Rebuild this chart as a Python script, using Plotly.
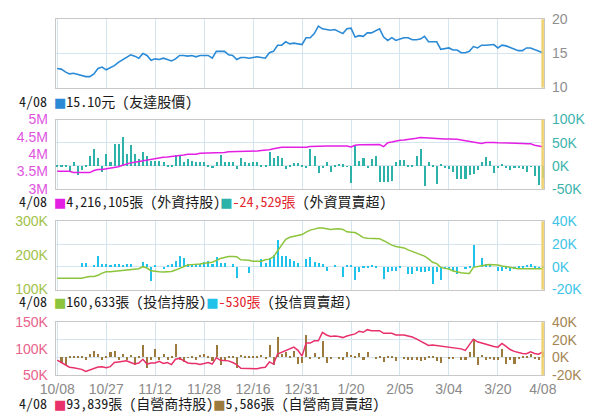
import plotly.graph_objects as go

# ---------------- data ----------------
tick_labels = ["10/08", "10/27", "11/12", "11/28", "12/16", "12/31",
               "1/20", "2/05", "3/04", "3/20", "4/08"]
tick_index = [0, 12, 24, 36, 48, 60, 72, 84, 96, 108, 119]

# 友達股價 (元)
price = [12.8, 12.7, 12.3, 12.0, 12.1, 11.9, 11.7, 11.6, 11.6, 12.0,
         12.8, 13.0, 12.6, 12.9, 13.2, 13.7, 14.1, 14.4, 14.8, 14.6,
         14.3, 15.0, 14.7, 14.0, 14.2, 14.1, 14.3, 14.1, 13.9, 14.2,
         14.7, 14.7, 14.6, 14.7, 14.5, 14.7, 14.7, 14.7, 14.3, 15.3,
         15.3, 15.3, 14.8, 14.7, 14.1, 14.4, 14.4, 14.3, 14.4, 14.5,
         14.4, 14.3, 15.1, 15.3, 16.2, 16.2, 16.7, 16.4, 16.5, 16.4,
         16.3, 17.3, 17.3, 17.9, 19.0, 18.6, 18.5, 18.4, 18.5, 18.2,
         17.9, 18.6, 18.7, 17.4, 17.6, 17.5, 18.0, 18.0, 18.3, 18.6,
         17.4, 16.9, 17.3, 16.9, 17.1, 17.3, 17.3, 17.0, 17.0, 17.1,
         17.5, 16.7, 16.7, 16.7, 15.6, 15.7, 15.8, 15.5, 15.5, 15.1,
         15.1, 15.3, 16.0, 15.8, 16.2, 16.2, 16.2, 16.3, 15.8, 16.2,
         16.1, 15.9, 15.7, 15.4, 15.4, 15.8, 15.8, 15.6, 15.4, 15.10]

# 外資持股 (千張)
foreign_hold = [3510, 3510, 3510, 3510, 3470, 3470, 3470, 3470, 3470, 3530,
                3560, 3560, 3580, 3580, 3600, 3640, 3680, 3720, 3750, 3770,
                3790, 3810, 3830, 3860, 3890, 3900, 3910, 3920, 3930, 3950,
                3970, 3980, 4000, 4000, 4000, 4030, 4030, 4030, 4050, 4050,
                4050, 4050, 4070, 4070, 4070, 4070, 4090, 4090, 4090, 4090,
                4110, 4110, 4130, 4160, 4190, 4200, 4200, 4200, 4200, 4200,
                4180, 4200, 4220, 4230, 4240, 4240, 4240, 4240, 4240, 4240,
                4240, 4240, 4210, 4260, 4270, 4270, 4270, 4270, 4290, 4280,
                4220, 4330, 4350, 4380, 4400, 4410, 4420, 4440, 4460, 4480,
                4470, 4460, 4450, 4450, 4450, 4440, 4440, 4440, 4430, 4410,
                4390, 4370, 4350, 4340, 4310, 4340, 4350, 4340, 4330, 4330,
                4330, 4330, 4330, 4330, 4310, 4300, 4300, 4260, 4240, 4216.105]

# 外資買賣超 (千張)
foreign_net = [3, 0.5, 3, -12, 9, -20, -8, 0.5, 21, 37,
               17, -13, 26, 8, 49, 49, 64, 26, 45, 26,
               16, 30, 23, 12, 12, 12, 10, 0.5, 2, 24,
               24, 9, 15, 12, 9, 8, 9, 3, -3, 9,
               24, 8, 8, 9, -7, 17, 9, 6, 8, 10,
               0.5, 0.5, 30, 17, 22, 17, -7, 3, 6, 6,
               2, -3, 37, 23, -15, -5, 10, -13, 2, 5.5,
               4, -1, -37, 45, 11, 17, -3, 15, 22, -34,
               -34, -34, -33, 9, 14, 14, 2, 3.5, 23, 37,
               -43, 9, 3.5, -38, 5.5, -3.5, -7, -12, -27, -28,
               -28, -19, -17, -8, 10, 19, 12, -15, -3.5, 5.5,
               -5, -8, -3.5, -3.5, -7, -12, -1.5, -22, -40, -24.529]

# 投信持股 (千張)
trust_hold = [133, 133, 133, 133, 133, 133, 133, 136, 138.5, 138.5,
              142, 148, 152, 152, 153, 154.5, 156, 157.5, 159, 160,
              161, 167, 163, 155, 153, 152, 151.6, 151.6, 153, 157,
              162, 168.5, 172, 173, 173.5, 175, 177, 179, 180, 185.5,
              191, 194, 196.7, 196.7, 196, 187, 187, 186, 183, 182.6,
              183, 187, 189, 196, 212, 228, 247, 253, 256, 258,
              261, 268, 274, 277, 280, 280, 277, 276, 277, 278,
              276, 269, 268, 267, 260, 252, 250, 250, 250, 249,
              243, 236, 230, 226, 223, 222, 216, 211, 207, 203,
              198, 190, 180, 176, 165, 162, 160, 154.5, 151, 149,
              148, 147, 165, 168, 170, 172, 173, 173, 172, 169,
              167, 165, 162, 161, 161, 161, 162, 162, 161, 160.633]

# 投信買賣超 (千張)
trust_net = [0, 0, 0, 0, 0, 0, 3.4, 3.4, 0, 1,
             9.6, 2.5, 2, 1, 2.5, 2.5, 1, 2.5, 2.5, 0,
             0, 4, 2, -13, 0.5, 0, -2.3, 1, 2, 4.8,
             9.6, 7.6, 2, 1, 1, 2, 4, 4.8, 2, 8.5,
             2.8, 2.8, 0, 2, -10, 0, 0, -5.6, 0, 0,
             6.2, 3.4, 7.6, 10.4, 23, 9.6, 9.6, 6.2, 4.5, 3.4,
             0, 6.2, 8.5, 4, 2.8, 2.2, -3.7, 0, 1, 0,
             -9.3, 1, 1, -12, -5, -1.7, -1.2, 1, -1.2, 0,
             -10.7, -5, -3.7, -3.7, -1.7, 0, -6.5, -6.5, -3.7, -5,
             -5, -3.7, -15, -4.5, -12, -2.3, -2.3, -3.7, -6.5, 0,
             -2.3, -1.7, 19, 0, 7.6, 2, 1, 0, -3.7, -3.7,
             -2.3, -3.7, -2.3, -1.7, -1.7, 1, 2.5, -1.7, -2.3, -0.53]

# 自營商持股 (千張)
dealer_hold = [78.5, 74, 68, 65, 64, 63, 61, 57, 60, 63,
               65.5, 66, 64, 66, 74, 75, 76, 77, 74, 71,
               73, 80, 71, 73, 73, 76, 72, 74, 70, 80,
               82, 77, 73, 72, 72, 70, 72, 74, 71, 83,
               78, 77, 77, 74, 70, 63, 63, 63, 63, 62,
               64, 65, 75, 71, 90, 93, 97, 99, 103, 97,
               86, 110.6, 110.6, 115, 115, 131, 126, 123, 124, 123,
               121, 124, 126, 128, 133, 131, 136, 134, 134, 134,
               129, 129, 129, 126, 126, 126, 124, 122, 118.5, 114,
               111, 106, 107, 106, 104.5, 103.5, 102.5, 101.5, 100.5, 99.7,
               96.7, 107, 118, 113, 110.6, 108, 106, 104, 103, 110,
               104.5, 98.5, 95, 93, 91, 90.6, 94, 91, 89.5, 93.839]

# 自營商買賣超 (千張)
dealer_net = [0, -6.5, -9, 0.7, 0.5, 0.7, 0.5, -3.6, 3.6, 7.3,
              3.6, -3, 0.7, 6.2, 7.3, -3, 3.6, -3.6, 2.9, -9,
              1.8, 13.8, -12, -3.6, 9, -3, 3.6, -3.6, 0.7, 14.5,
              -3.6, -5.5, 0.3, 0.7, -3, 2.5, 3.6, 1.8, -4.4, 13.8,
              -8.4, -3, 0.7, 0.7, -12.7, 2.5, 0.7, 0.7, 1.8, 0.7,
              2.5, -1.8, 13.8, -8.4, 22.5, 3.6, 6.2, 1.8, 7.3, -7.3,
              -6.5, 24.7, -1.8, 4.4, -1, 18, -6.5, -1, 0, -1.8,
              -3.6, 5.5, 2.5, 1.8, 4.4, -3.6, 6.2, 0, -1.8, 0.7,
              -5.5, 0.7, 0.7, -4.4, 0, -1.8, -3, -3.6, -3, -4.4,
              -3.6, 1.8, 1.8, -4.4, -6.5, 0, -1.8, -1.8, 0, -3,
              -3.6, 5.5, 21, -9, 2.5, -3, -1.5, -3, -3, 9.8,
              -7.3, -3, -7.3, -1.8, 0.7, 0.7, 3.6, -1.8, -3.6, 5.586]

# ---------------- figure ----------------
n = len(price)
x = list(range(n))
last = tick_labels[-1]

FONT = "Liberation Sans, Noto Sans CJK TC, sans-serif"
LEG_FONT = "Noto Sans Mono CJK TC, Noto Sans CJK TC, monospace"
W, H = 602, 420
GRID = "#d5e5ef"
BORDER = "#c8c8c8"
CURSOR = "#f2cf63"

C_PRICE = "#2a8ad6"
C_FH, C_FH_T = "#e41fe4", "#e055e0"
C_FN, C_FN_T = "#2db2a9", "#3db3ad"
C_TH, C_TH_T = "#8cc43c", "#a2c24a"
C_TN, C_TN_T = "#1fc3ea", "#3ec4e6"
C_DH, C_DH_T = "#e8306a", "#e8628c"
C_DN, C_DN_T = "#9c7a3e", "#a58553"
RED = "#e3262f"

k = lambda arr: [v * 1000 for v in arr]

fig = go.Figure()
fig.add_trace(go.Scatter(x=x, y=price, mode="lines",
                         line=dict(color=C_PRICE, width=1.6), xaxis="x", yaxis="y"))
fig.add_trace(go.Bar(x=x, y=k(foreign_net), marker=dict(color=C_FN, line=dict(width=0)),
                     width=0.5, xaxis="x2", yaxis="y2"))
fig.add_trace(go.Scatter(x=x, y=k(foreign_hold), mode="lines",
                         line=dict(color=C_FH, width=1.5), xaxis="x2", yaxis="y3"))
fig.add_trace(go.Bar(x=x, y=k(trust_net), marker=dict(color=C_TN, line=dict(width=0)),
                     width=0.5, xaxis="x3", yaxis="y4"))
fig.add_trace(go.Scatter(x=x, y=k(trust_hold), mode="lines",
                         line=dict(color=C_TH, width=1.5), xaxis="x3", yaxis="y5"))
fig.add_trace(go.Bar(x=x, y=k(dealer_net), marker=dict(color=C_DN, line=dict(width=0)),
                     width=0.5, xaxis="x4", yaxis="y6"))
fig.add_trace(go.Scatter(x=x, y=k(dealer_hold), mode="lines",
                         line=dict(color=C_DH, width=1.5), xaxis="x4", yaxis="y7"))

xdom = [41.7 / W, 554 / W]
def ydom(top, bottom):
    return [1 - bottom / H, 1 - top / H]

d1 = ydom(11.7, 82.7)
d2 = ydom(116, 188)
d3 = ydom(221.7, 292.7)
d4 = ydom(326.7, 381.7)

def xax(anchor, labels=False):
    return dict(domain=xdom, anchor=anchor, range=[-0.35, n - 1 + 0.35],
                tickvals=tick_index, ticktext=tick_labels, showticklabels=labels,
                showgrid=True, gridcolor=GRID, gridwidth=1, zeroline=False,
                showline=True, mirror=True, linecolor=BORDER, linewidth=1,
                ticks="outside" if labels else "", ticklen=1, tickcolor="rgba(0,0,0,0)",
                tickfont=dict(family=FONT, size=14, color="#8a8a8a"))

def kfmt(vals):
    return ["%dK" % (v // 1000) if v != 0 else "0K" for v in vals]

def yax(dom, anchor, side, rng, vals, text, color, grid, overlay=None):
    d = dict(anchor=anchor, side=side, range=rng, tickvals=vals, ticktext=text,
             showgrid=grid, gridcolor=GRID, gridwidth=1, zeroline=False,
             ticks="outside", ticklen=4, tickcolor="rgba(0,0,0,0)",
             tickfont=dict(family=FONT, size=14, color=color),
             fixedrange=True)
    if overlay:
        d["overlaying"] = overlay
    else:
        d.update(domain=dom, showline=True, mirror=True, linecolor=BORDER, linewidth=1)
    return d

r_net2 = [-50000, 0, 50000, 100000]
r_net = [-20000, 0, 20000, 40000]

layout = dict(
    width=W, height=H, autosize=False,
    margin=dict(l=0, r=0, t=0, b=0),
    paper_bgcolor="white", plot_bgcolor="white",
    showlegend=False, bargap=0,
    font=dict(family=FONT, size=14, color="#222"),
    xaxis=xax("y"), xaxis2=xax("y2"), xaxis3=xax("y4"), xaxis4=xax("y6", True),
    yaxis=yax(d1, "x", "right", [10, 20], [10, 15, 20], ["10", "15", "20"], "#8f8f8f", True),
    yaxis2=yax(d2, "x2", "right", [-50000, 100000], r_net2, kfmt(r_net2), C_FN_T, True),
    yaxis3=yax(d2, "x2", "left", [3e6, 5e6], [3e6, 3.5e6, 4e6, 4.5e6, 5e6],
               ["3M", "3.5M", "4M", "4.5M", "5M"], C_FH_T, False, overlay="y2"),
    yaxis4=yax(d3, "x3", "right", [-20000, 40000], r_net, kfmt(r_net), C_TN_T, True),
    yaxis5=yax(d3, "x3", "left", [100000, 300000], [100000, 200000, 300000],
               ["100K", "200K", "300K"], C_TH_T, False, overlay="y4"),
    yaxis6=yax(d4, "x4", "right", [-20000, 40000], r_net, kfmt(r_net), C_DN_T, True),
    yaxis7=yax(d4, "x4", "left", [50000, 150000], [50000, 100000, 150000],
               ["50K", "100K", "150K"], C_DH_T, False, overlay="y6"),
)
fig.update_layout(**layout)

# cursor line at the last trading day
for xa, ya in [("x", "y"), ("x2", "y2"), ("x3", "y4"), ("x4", "y6")]:
    fig.add_shape(type="line", xref=xa, yref=ya + " domain", x0=n - 1, x1=n - 1,
                  y0=0, y1=1, line=dict(color=CURSOR, width=3), opacity=0.85, layer="above")

def sq(c):
    return ('<span style="font-family:DejaVu Sans;font-size:13px;color:%s">■</span>' % c)

def signed(v):
    s = "{:,}".format(int(round(v * 1000)))
    return '<span style="color:%s">%s張</span>' % (RED, s) if v < 0 else s + "張"

rows = [
    (96.7, "%s %s%.2f元 (友達股價)" % (last, sq(C_PRICE), price[-1])),
    (200.5, "%s %s%s (外資持股)%s%s (外資買賣超)" % (
        last, sq(C_FH), signed(foreign_hold[-1]), sq(C_FN), signed(foreign_net[-1]))),
    (305.0, "%s %s%s (投信持股)%s%s (投信買賣超)" % (
        last, sq(C_TH), signed(trust_hold[-1]), sq(C_TN), signed(trust_net[-1]))),
    (410.5, "%s %s%s (自營商持股)%s%s (自營商買賣超)" % (
        last, sq(C_DH), signed(dealer_hold[-1]), sq(C_DN), signed(dealer_net[-1]))),
]
for ypx, txt in rows:
    fig.add_annotation(xref="paper", yref="paper", x=1.5 / W, y=1 - ypx / H,
                       xanchor="left", yanchor="middle", showarrow=False, text=txt,
                       font=dict(family=LEG_FONT, size=14, color="#1a1a1a"))

fig.write_html("out.html", config={"displayModeBar": False},
               post_script="document.body.style.margin='0';")
